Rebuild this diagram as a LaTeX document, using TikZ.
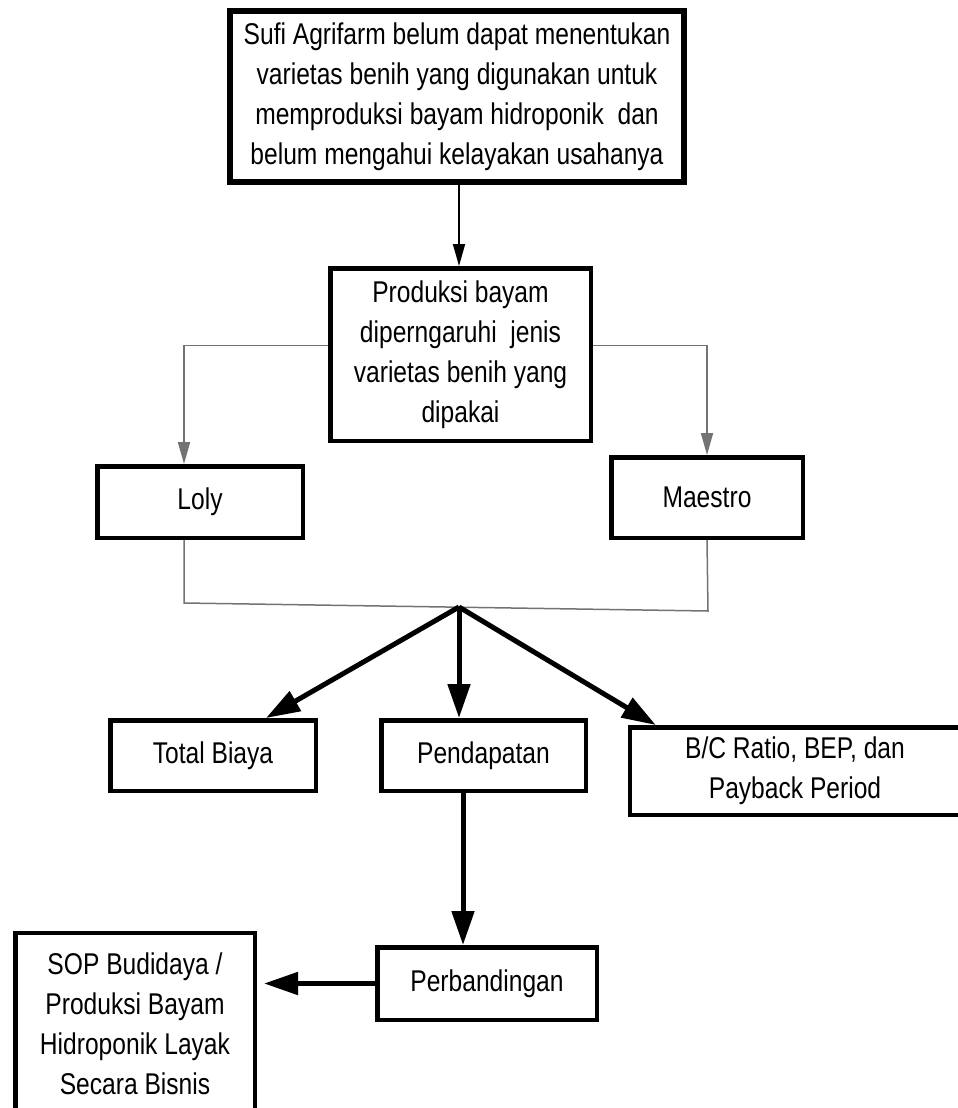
\documentclass[tikz,border=0pt]{standalone}
\usepackage{fontspec}
\setmainfont{Liberation Sans}[FakeStretch=0.82]
\usetikzlibrary{arrows.meta}

\tikzset{
  boxa/.style={draw=black, line width=4.5pt, fill=white, align=center, inner sep=0pt,
    font=\fontsize{30}{40}\selectfont},
  boxtop/.style={boxa, line width=6pt},
  thinline/.style={draw=black!55, line width=1.5pt},
  thinarrow/.style={line width=1.8pt, -{Triangle[length=22pt, width=12pt]}},
  thickarrow/.style={line width=5pt, -{Triangle[length=34pt, width=22pt]}}
}

\begin{document}
\begin{tikzpicture}[x=1pt, y=-1pt]
\useasboundingbox (0,0) rectangle (958,1108);

\node (top) at (457,96.5)[boxtop, minimum width=454pt, minimum height=171pt]
  {Sufi Agrifarm belum dapat menentukan\\varietas benih yang digunakan untuk\\memproduksi bayam hidroponik\ \ dan\\belum mengahui kelayakan usahanya};

\node (prod) at (460.5,354.5)[boxa, minimum width=260.5pt, minimum height=172.5pt]
  {Produksi bayam\\diperngaruhi\ \ jenis\\varietas benih yang\\dipakai};

\node (loly) at (200,502)[boxa, minimum width=205.5pt, minimum height=71.5pt]{Loly};
\node (maestro) at (707,497.5)[boxa, minimum width=191.5pt, minimum height=80.5pt]{Maestro};

\node (total) at (213,755.5)[boxa, minimum width=205.5pt, minimum height=70.5pt]{Total Biaya};
\node (pend) at (483.5,755.5)[boxa, minimum width=204.5pt, minimum height=70.5pt]{Pendapatan};
\node (bc) at (795,771)[boxa, minimum width=330pt, minimum height=87.5pt]
  {B/C Ratio, BEP, dan\\Payback Period};

\node (perb) at (487,983.5)[boxa, minimum width=219.5pt, minimum height=72.5pt]{Perbandingan};
\node (sop) at (135,1024)[boxa, minimum width=239.5pt, minimum height=182pt]
  {SOP Budidaya /\\Produksi Bayam\\Hidroponik Layak\\Secara Bisnis};

\coordinate (lc) at (184,603);
\coordinate (mc) at (708,611);
\coordinate (hub) at (459,607);

% thin connectors
\draw [thinarrow] ([xshift=2pt]top.south) -- ([xshift=2pt]top.south |- prod.north);
\draw [thinline, thinarrow, draw=black!55] ([yshift=9pt]prod.west) -| ([xshift=-16pt]loly.north);
\draw [thinline, thinarrow, draw=black!55] ([yshift=9pt]prod.east) -| (maestro.north);
\draw [thinline] ([xshift=-16pt]loly.south) -- (lc) -- (mc) -- (maestro.south);

% thick arrows
\draw [thickarrow] (hub) -- ([xshift=53pt]total.north);
\draw [thickarrow] (hub) -- (hub |- pend.north);
\draw [thickarrow] (hub) -- ([xshift=28pt]bc.north west);
\draw [thickarrow] ([xshift=-20.5pt]pend.south) -- ([xshift=-20.5pt]pend.south |- perb.north);
\draw [thickarrow, shorten >=7pt] (perb.west) -- (perb.west -| sop.east);

\end{tikzpicture}
\end{document}
